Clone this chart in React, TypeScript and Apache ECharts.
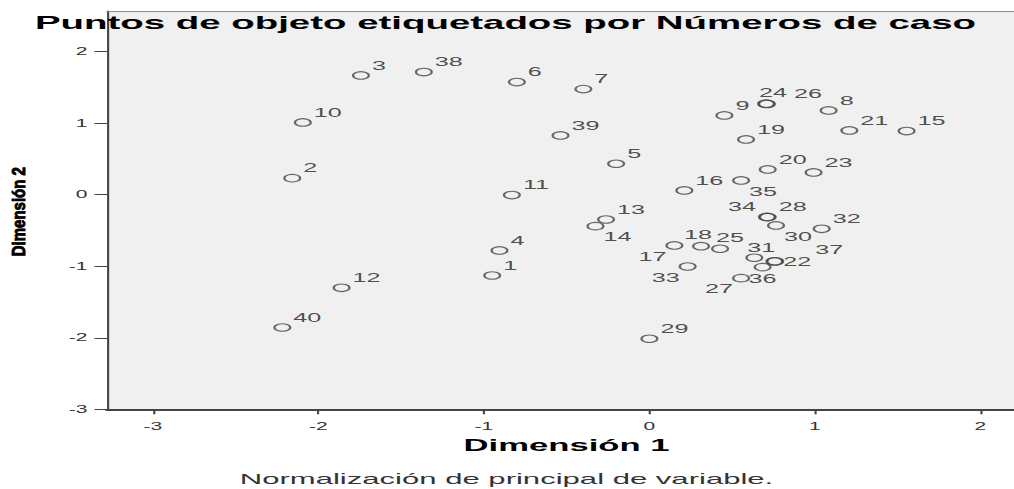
import React, { useEffect, useRef } from 'react';
import * as echarts from 'echarts';

// The reference is horizontally stretched; the chart is drawn at a base width and scaled in X.
const SCREEN_W = 1014;
const BASE_W = 483;
const H = 489;
const STRETCH = SCREEN_W / BASE_W;
const FONT = '"Liberation Sans", Arial, sans-serif';

// ---- data ----
const caseNumbers = [
  1, 2, 3, 4, 5, 6, 7, 8, 9, 10,
  11, 12, 13, 14, 15, 16, 17, 18, 19, 20,
  21, 22, 23, 24, 25, 26, 27, 28, 29, 30,
  31, 32, 33, 34, 35, 36, 37, 38, 39, 40,
];
const dimension1 = [
  -0.95, -2.158, -1.743, -0.906, -0.201, -0.801, -0.399, 1.083, 0.453, -2.094,
  -0.831, -1.86, -0.262, -0.326, 1.554, 0.211, 0.151, 0.312, 0.584, 0.715,
  1.208, 0.755, 0.992, 0.705, 0.427, 0.71, 0.554, 0.715, 0.0, 0.765,
  0.634, 1.041, 0.231, 0.71, 0.554, 0.684, 0.76, -1.363, -0.537, -2.218,
];
const dimension2 = [
  -1.129, 0.232, 1.668, -0.779, 0.433, 1.575, 1.477, 1.179, 1.109, 1.011,
  -0.005, -1.301, -0.346, -0.439, 0.89, 0.06, -0.709, -0.719, 0.773, 0.354,
  0.899, -0.933, 0.312, 1.273, -0.755, 1.27, -1.166, -0.313, -2.014, -0.429,
  -0.881, -0.476, -1.003, -0.31, 0.2, -1.012, -0.93, 1.715, 0.829, -1.856,
];
// where each case label sits around its point
const labelSpot = [
  'ur', 'ur', 'ur', 'ur', 'ur', 'ur', 'ur', 'ur', 'ur', 'ur',
  'ur', 'ur', 'ur', 'lr', 'ur', 'ur', 'll', 'tl', 'ur', 'ur',
  'ur', 'r', 'ur', 't', 'tr', 'ur2', 'll', 'ur', 'ur', 'lr',
  't', 'ur', 'll', 'ul', 'lr', 'b', 'ur3', 'ur', 'ur', 'ur',
];
const xTicks = [-3, -2, -1, 0, 1, 2];
const yTicks = [-3, -2, -1, 0, 1, 2];
const titleText = 'Puntos de objeto etiquetados por Números de caso';
const xName = 'Dimensión 1';
const yName = 'Dimensión 2';
const footnote = 'Normalización de principal de variable.';

// label placements in screen pixels: [dx, dy, align]
const SPOTS: Record<string, [number, number, string]> = {
  ur: [11, -10, 'left'],
  ul: [-11, -10, 'right'],
  lr: [8, 11, 'left'],
  ll: [-8, 11, 'right'],
  t: [7, -10.5, 'center'],
  tl: [-3, -11, 'center'],
  tr: [10, -10.5, 'center'],
  b: [0, 12, 'center'],
  r: [9, 0, 'left'],
  ur2: [27, -10, 'left'],
  ur3: [40, -12, 'left'],
};

function labelFor(spot: string) {
  const [dx, dy, align] = SPOTS[spot] || SPOTS.ur;
  return {
    position: 'inside',
    align,
    verticalAlign: 'middle',
    offset: [dx / STRETCH, dy],
  };
}

const X_MIN = -3.277;
const X_MAX = 2.203;

export default function App() {
  const ref = useRef<HTMLDivElement>(null);

  useEffect(() => {
    if (!ref.current) return;
    const chart = echarts.init(ref.current, undefined, { renderer: 'svg' });
    const axisColor = '#444';
    const option: any = {
      animation: false,
      backgroundColor: '#ffffff',
      title: {
        text: titleText,
        left: 35 / STRETCH,
        top: 13,
        padding: 0,
        textStyle: {
          fontFamily: FONT,
          fontSize: 18.3,
          fontWeight: 'bold',
          color: '#000',
          lineHeight: 20,
        },
      },
      grid: {
        left: 51,
        right: 0,
        top: 11,
        bottom: 79.7,
        show: true,
        backgroundColor: '#f0f0f0',
        borderWidth: 0,
      },
      xAxis: [
        {
          type: 'value',
          min: X_MIN,
          max: X_MAX,
          name: xName,
          nameLocation: 'middle',
          nameGap: 27,
          nameTextStyle: {
            fontFamily: FONT,
            fontSize: 16.5,
            fontWeight: 'bold',
            color: '#000',
            padding: [0, 0, 0, 5.7],
          },
          axisLine: { show: true, onZero: false, lineStyle: { color: axisColor, width: 2 } },
          axisTick: {
            show: true,
            inside: false,
            length: 5,
            customValues: xTicks,
            lineStyle: { color: axisColor, width: 1 },
          },
          axisLabel: {
            customValues: xTicks,
            margin: 12,
            fontFamily: FONT,
            fontSize: 10,
            color: '#333',
          },
          splitLine: { show: false },
        },
        {
          type: 'value',
          position: 'top',
          min: X_MIN,
          max: X_MAX,
          axisLine: { show: true, onZero: false, lineStyle: { color: '#8c8c8c', width: 1 } },
          axisTick: { show: false },
          axisLabel: { show: false },
          splitLine: { show: false },
        },
      ],
      yAxis: {
        type: 'value',
        min: -3,
        max: 2.569,
        axisLine: { show: true, onZero: false, lineStyle: { color: axisColor, width: 1 } },
        axisTick: {
          show: true,
          inside: false,
          length: 6,
          customValues: yTicks,
          lineStyle: { color: axisColor, width: 1 },
        },
        axisLabel: {
          customValues: yTicks,
          margin: 9.3,
          fontFamily: FONT,
          fontSize: 10,
          color: '#333',
        },
        splitLine: { show: false },
      },
      graphic: [
        {
          type: 'text',
          x: 9,
          y: 211.7,
          rotation: Math.PI / 2,
          scaleX: 1,
          scaleY: 0.56,
          style: {
            text: yName,
            font: `bold 15px ${FONT}`,
            fill: '#000',
            stroke: '#000',
            lineWidth: 0.8,
            textAlign: 'center',
            textVerticalAlign: 'middle',
          },
        },
        {
          type: 'text',
          x: 506.5 / STRETCH,
          y: 478.5,
          style: {
            text: footnote,
            font: `14.8px ${FONT}`,
            fill: '#333',
            textAlign: 'center',
            textVerticalAlign: 'middle',
          },
        },
      ],
      series: [
        {
          type: 'scatter',
          xAxisIndex: 0,
          silent: true,
          symbol: 'circle',
          symbolSize: 7.5,
          itemStyle: { color: 'rgba(0,0,0,0)', borderColor: '#444', borderWidth: 1.1 },
          emphasis: { disabled: true },
          label: {
            show: true,
            formatter: (p: any) => p.name,
            fontFamily: FONT,
            fontSize: 12,
            color: '#222',
          },
          data: caseNumbers.map((c, i) => ({
            name: String(c),
            value: [dimension1[i], dimension2[i]],
            label: labelFor(labelSpot[i]),
          })),
        },
      ],
    };
    chart.setOption(option);
    return () => chart.dispose();
  }, []);

  return (
    <div
      style={{
        position: 'absolute',
        left: 0,
        top: 0,
        width: SCREEN_W,
        height: H,
        overflow: 'hidden',
        background: '#fff',
      }}
    >
      <div
        ref={ref}
        style={{
          width: BASE_W,
          height: H,
          transform: `scaleX(${STRETCH})`,
          transformOrigin: '0 0',
        }}
      />
    </div>
  );
}
